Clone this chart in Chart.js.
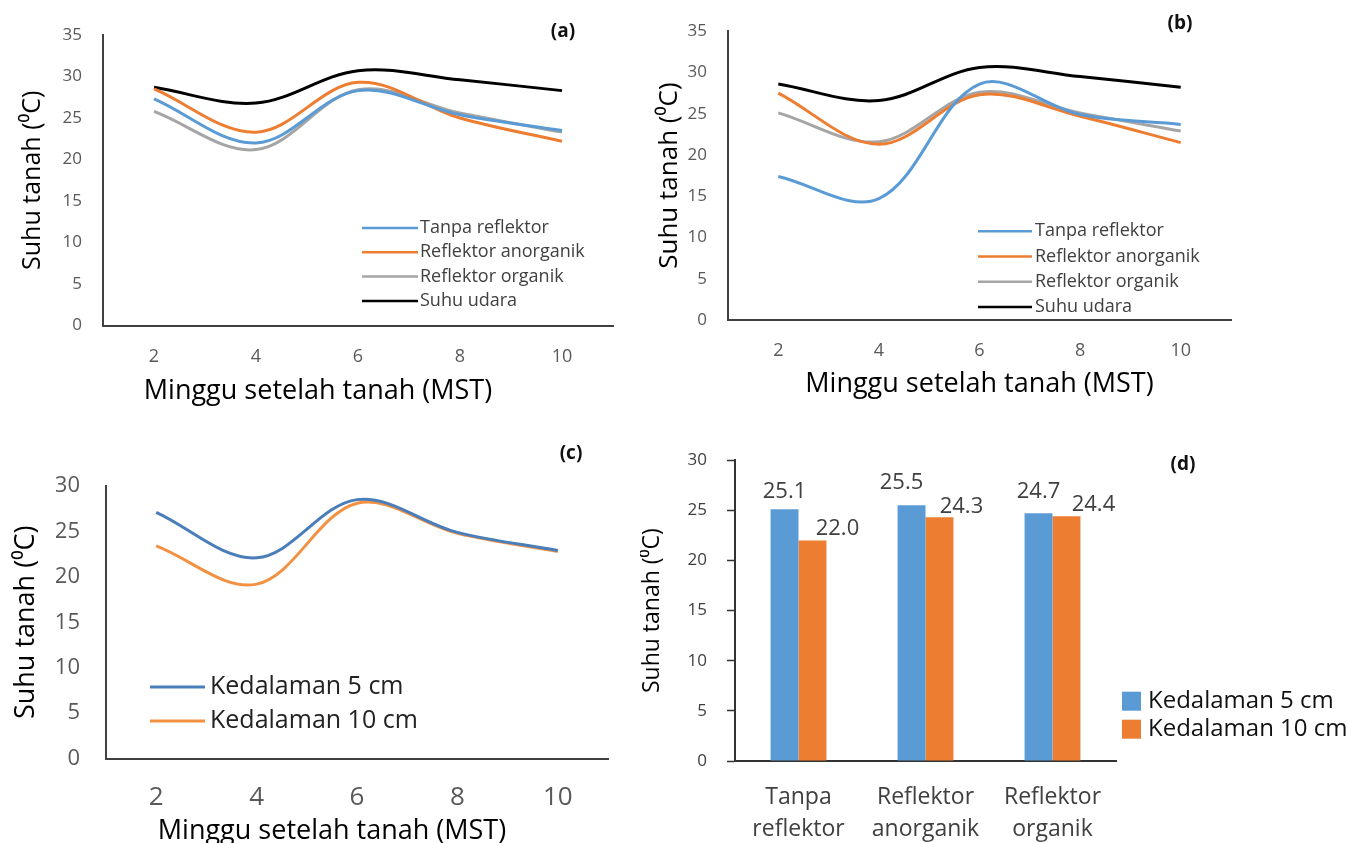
<!DOCTYPE html>
<html>
<head>
<meta charset="utf-8">
<script src="https://cdn.jsdelivr.net/npm/chart.js@4.4.1/dist/chart.umd.min.js"></script>
<style>
  html, body { margin: 0; padding: 0; background: #fff; }
  body { width: 1360px; height: 843px; position: relative; overflow: hidden; }
  .panel { position: absolute; }
  .tag { position: absolute; transform: translate(-50%, -50%); font-family: 'Open Sans', sans-serif; font-weight: bold; font-size: 19px; color: #111; }
</style>
</head>
<body>
<div class="panel" style="left:0;top:0;width:640px;height:420px"><canvas id="chartA"></canvas></div>
<div class="panel" style="left:640px;top:0;width:620px;height:410px"><canvas id="chartB"></canvas></div>
<div class="panel" style="left:0;top:430px;width:630px;height:413px"><canvas id="chartC"></canvas></div>
<div class="panel" style="left:640px;top:430px;width:720px;height:413px"><canvas id="chartD"></canvas></div>
<div class="tag" style="left:563px;top:30px">(a)</div>
<div class="tag" style="left:1180px;top:22px">(b)</div>
<div class="tag" style="left:571px;top:452px">(c)</div>
<div class="tag" style="left:1183px;top:463px">(d)</div>

<script>
// week labels (MST)
const weeks = ['2', '4', '6', '8', '10']

// (a) depth 5 cm
const aTanpa = [27.3, 22.0, 28.3, 25.4, 23.5]
const aAnorganik = [28.5, 23.3, 29.3, 25.0, 22.2]
const aOrganik = [25.8, 21.2, 28.4, 25.6, 23.3]
const aUdara = [28.7, 26.8, 30.7, 29.6, 28.3]

// (b) depth 10 cm
const bTanpa = [17.4, 14.7, 28.6, 24.9, 23.7]
const bAnorganik = [27.5, 21.3, 27.3, 24.7, 21.5]
const bOrganik = [25.1, 21.6, 27.6, 25.1, 22.9]
const bUdara = [28.6, 26.6, 30.6, 29.5, 28.2]

// (c) mean per depth
const cDepth5 = [27.1, 22.1, 28.5, 24.9, 22.9]
const cDepth10 = [23.4, 19.2, 28.1, 24.8, 22.8]

// (d) mean per treatment
const dCategories = [['Tanpa', 'reflektor'], ['Reflektor', 'anorganik'], ['Reflektor', 'organik']]
const dDepth5 = [25.1, 25.5, 24.7]
const dDepth10 = [22.0, 24.3, 24.4]

const seriesLabels = ['Tanpa reflektor', 'Reflektor anorganik', 'Reflektor organik', 'Suhu udara']
const depthLabels = ['Kedalaman 5 cm', 'Kedalaman 10 cm']
const yTitle = 'Suhu tanah (\u2070C)'
const xTitle = 'Minggu setelah tanah (MST)'

const sans = "'Open Sans', sans-serif"

// legend drawn at a spot relative to the chart area
const insideLegend = {
  id: 'insideLegend',
  afterDraw(chart, args, opts) {
    const { ctx, chartArea } = chart
    ctx.save()
    ctx.font = `${opts.size}px ${opts.family}`
    ctx.textBaseline = 'middle'
    ctx.textAlign = 'left'
    chart.data.datasets.forEach((ds, i) => {
      const x = chartArea.left + opts.x
      const y = chartArea.top + opts.y + i * opts.rowHeight
      if (opts.marker === 'box') {
        ctx.fillStyle = ds.backgroundColor
        ctx.fillRect(x, y - opts.markerSize / 2, opts.markerSize, opts.markerSize)
      } else {
        ctx.strokeStyle = ds.borderColor
        ctx.lineWidth = opts.lineWidth
        ctx.beginPath()
        ctx.moveTo(x, y)
        ctx.lineTo(x + opts.markerSize, y)
        ctx.stroke()
      }
      ctx.fillStyle = opts.color
      ctx.fillText(ds.label, x + opts.markerSize + opts.gap, y)
    })
    ctx.restore()
  }
}

// value labels above bars, nudged like the original
const barValues = {
  id: 'barValues',
  afterDatasetsDraw(chart, args, opts) {
    const { ctx } = chart
    ctx.save()
    ctx.font = `${opts.size}px ${opts.family}`
    ctx.fillStyle = opts.color
    ctx.textAlign = 'center'
    ctx.textBaseline = 'alphabetic'
    chart.data.datasets.forEach((ds, di) => {
      chart.getDatasetMeta(di).data.forEach((bar, i) => {
        ctx.fillText(ds.data[i].toFixed(1), bar.x + opts.dx[di][i], bar.y + opts.dy[di][i])
      })
    })
    ctx.restore()
  }
}

function lineDataset(label, data, color) {
  return {
    label: label,
    data: data,
    borderColor: color,
    backgroundColor: color,
    borderWidth: 3,
    pointRadius: 0,
    tension: 0.35,
    fill: false
  }
}

function lineOptions(cfg) {
  return {
    responsive: true,
    maintainAspectRatio: false,
    animation: false,
    layout: { padding: cfg.padding },
    plugins: {
      legend: { display: false },
      tooltip: { enabled: false },
      subtitle: cfg.subtitle || { display: false },
      insideLegend: cfg.legend
    },
    scales: {
      x: {
        type: 'category',
        offset: true,
        grid: { display: false, drawTicks: false },
        border: { display: true, color: '#404040', width: 2 },
        ticks: { color: '#595959', padding: cfg.xTickPad, font: { family: sans, size: cfg.xTickSize } },
        title: cfg.xTitle || { display: false },
        afterFit(scale) { scale.height = cfg.xHeight }
      },
      y: {
        min: 0,
        max: cfg.yMax,
        grid: { display: false, drawTicks: false },
        border: { display: true, color: '#404040', width: 2 },
        ticks: { stepSize: 5, color: '#595959', padding: cfg.yTickPad, font: { family: sans, size: cfg.yTickSize } },
        title: {
          display: true,
          text: yTitle,
          color: '#000',
          font: { family: sans, size: cfg.yTitleSize },
          padding: { top: cfg.yTitlePad, bottom: 0 }
        },
        afterFit(scale) { scale.width = cfg.yWidth }
      }
    }
  }
}

const blue = '#5b9bd5'
const orange = '#ed7d31'
const gray = '#a5a5a5'
const black = '#000000'

new Chart(document.getElementById('chartA'), {
  type: 'line',
  data: {
    labels: weeks,
    datasets: [
      lineDataset(seriesLabels[0], aTanpa, blue),
      lineDataset(seriesLabels[1], aAnorganik, orange),
      lineDataset(seriesLabels[2], aOrganik, gray),
      lineDataset(seriesLabels[3], aUdara, black)
    ]
  },
  options: lineOptions({
    padding: { left: 23, right: 27, top: 35, bottom: 0 },
    yMax: 35, yWidth: 80, xHeight: 50,
    yTitleSize: 25, yTitlePad: -5,
    yTickPad: 21, xTickPad: 20, yTickSize: 17, xTickSize: 18,
    subtitle: { display: true, position: 'bottom', text: xTitle, color: '#000', font: { family: sans, size: 27 }, padding: { top: 0, bottom: 12 } },
    legend: { x: 259, y: 193, rowHeight: 24.3, markerSize: 56, lineWidth: 2.5, gap: 2, size: 18, family: sans, color: '#404040' }
  }),
  plugins: [insideLegend]
})

new Chart(document.getElementById('chartB'), {
  type: 'line',
  data: {
    labels: weeks,
    datasets: [
      lineDataset(seriesLabels[0], bTanpa, blue),
      lineDataset(seriesLabels[1], bAnorganik, orange),
      lineDataset(seriesLabels[2], bOrganik, gray),
      lineDataset(seriesLabels[3], bUdara, black)
    ]
  },
  options: lineOptions({
    padding: { left: 0, right: 29, top: 25, bottom: 0 },
    yMax: 35, yWidth: 88, xHeight: 90,
    yTitleSize: 26, yTitlePad: 14,
    yTickPad: 21, xTickPad: 20, yTickSize: 17, xTickSize: 18,
    xTitle: { display: true, text: xTitle, color: '#000', font: { family: sans, size: 27 }, padding: { top: 0, bottom: 9 } },
    legend: { x: 250, y: 200, rowHeight: 25.3, markerSize: 54, lineWidth: 2.5, gap: 3, size: 18, family: sans, color: '#404040' }
  }),
  plugins: [insideLegend]
})

new Chart(document.getElementById('chartC'), {
  type: 'line',
  data: {
    labels: weeks,
    datasets: [
      lineDataset(depthLabels[0], cDepth5, '#4a7ebb'),
      lineDataset(depthLabels[1], cDepth10, '#f39143')
    ]
  },
  options: lineOptions({
    padding: { left: 56, right: 22, top: 56, bottom: 0 },
    yMax: 30, yWidth: 50, xHeight: 57,
    yTitleSize: 27, yTitlePad: -46,
    yTickPad: 26, xTickPad: 23, yTickSize: 22, xTickSize: 26,
    subtitle: { display: true, position: 'bottom', text: xTitle, color: '#000', font: { family: sans, size: 27 }, padding: { top: 0, bottom: -5 } },
    legend: { x: 44, y: 201, rowHeight: 34, markerSize: 55, lineWidth: 3, gap: 5, size: 25, family: sans, color: '#222' }
  }),
  plugins: [insideLegend]
})

new Chart(document.getElementById('chartD'), {
  type: 'bar',
  data: {
    labels: dCategories,
    datasets: [
      { label: depthLabels[0], data: dDepth5, backgroundColor: blue, barPercentage: 1, categoryPercentage: 0.44 },
      { label: depthLabels[1], data: dDepth10, backgroundColor: orange, barPercentage: 1, categoryPercentage: 0.44 }
    ]
  },
  options: {
    responsive: true,
    maintainAspectRatio: false,
    animation: false,
    layout: { padding: { left: 0, right: 244, top: 23, bottom: 0 } },
    plugins: {
      legend: { display: false },
      tooltip: { enabled: false },
      insideLegend: { marker: 'box', x: 387, y: 241, rowHeight: 28, markerSize: 19, gap: 7, size: 24, family: sans, color: '#111' },
      barValues: {
        size: 22, family: sans, color: '#404040',
        dx: [[0, -10, 0], [25, 22, 27]],
        dy: [[-11, -16, -15], [-5, -4, -5]]
      }
    },
    scales: {
      x: {
        grid: { display: false, drawTicks: false },
        border: { display: true, color: '#333', width: 2 },
        ticks: { color: '#404040', padding: 20, font: { family: sans, size: 23, lineHeight: 1.4 } },
        afterFit(scale) { scale.height = 82 }
      },
      y: {
        min: 0,
        max: 30,
        grid: { drawOnChartArea: false, drawTicks: true, tickLength: 8, color: '#333', tickWidth: 1.5 },
        border: { display: true, color: '#333', width: 2 },
        ticks: { stepSize: 5, color: '#404040', padding: 20, font: { family: sans, size: 17 } },
        title: {
          display: true,
          text: yTitle,
          color: '#000',
          font: { family: sans, size: 23 },
          padding: { top: -1, bottom: 0 }
        },
        afterFit(scale) { scale.width = 95 }
      }
    }
  },
  plugins: [insideLegend, barValues]
})
</script>
</body>
</html>
